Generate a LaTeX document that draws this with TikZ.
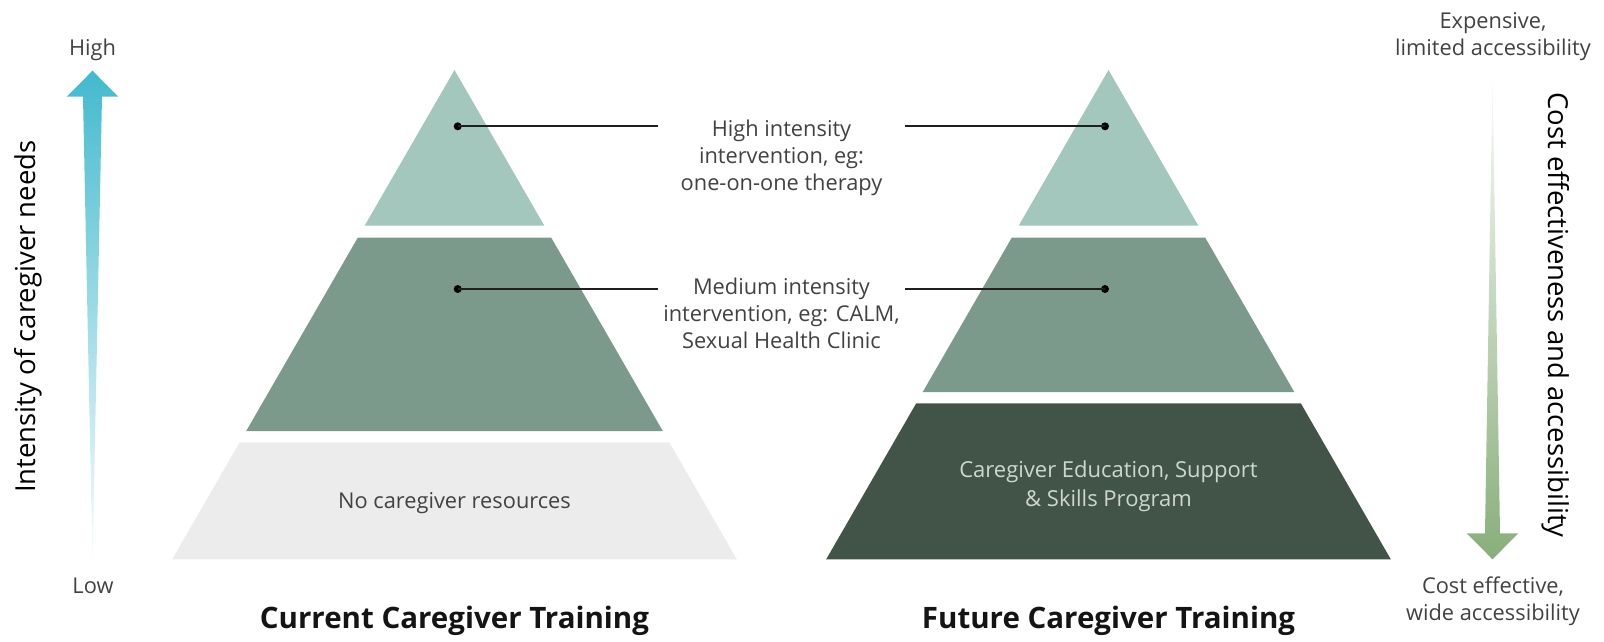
\documentclass[tikz,border=0pt]{standalone}
\usepackage{fontspec}
\setmainfont{Open Sans}
\usetikzlibrary{positioning}

\definecolor{tiertop}{RGB}{163,199,188}
\definecolor{tiermid}{RGB}{124,154,139}
\definecolor{tierbase}{RGB}{66,84,72}
\definecolor{tiernone}{RGB}{236,236,236}
\definecolor{needblue}{RGB}{67,186,206}
\definecolor{costgreen}{RGB}{137,174,123}
\definecolor{labelgray}{RGB}{66,66,66}
\definecolor{baselabel}{RGB}{205,215,208}

% one slice of a pyramid: apex x, top y, bottom y, colour
\newcommand{\pyrlayer}[4]{%
  \fill[#4] ({#1-0.577*(#2-70)},#2) -- ({#1+0.577*(#2-70)},#2)
    -- ({#1+0.577*(#3-70)},#3) -- ({#1-0.577*(#3-70)},#3) -- cycle;}

\tikzset{
  note/.style={font=\fontsize{21.8}{27.3}\selectfont, text=labelgray, align=center, inner sep=0pt},
  heading/.style={font=\fontsize{29.5}{34}\selectfont\bfseries, text=black!92, inner sep=0pt},
  axislabel/.style={font=\fontsize{27.5}{32}\selectfont, text=black, inner sep=0pt},
  leader/.style={line width=1.8pt, black!88},
  leaderdot/.style={circle, fill=black, inner sep=0pt, minimum size=8pt},
}

\begin{document}
\begin{tikzpicture}[x=1pt,y=-1pt]
    \useasboundingbox (0,0) rectangle (1604,641);

    % Current pyramid
    \pyrlayer{454.5}{70}{225.7}{tiertop}
    \pyrlayer{454.5}{237.7}{431}{tiermid}
    \pyrlayer{454.5}{442.3}{559.3}{tiernone}
    \node[note, anchor=base] (nores) at (454.5,508.3) {No caregiver resources};

    % Future pyramid
    \pyrlayer{1108.5}{70}{225.7}{tiertop}
    \pyrlayer{1108.5}{237.7}{392}{tiermid}
    \pyrlayer{1108.5}{403.3}{559.3}{tierbase}
    \node[note, text=baselabel, font=\fontsize{22}{28.7}\selectfont] (program) at (1108.5,486)
        {Caregiver Education, Support\\\& Skills Program};

    % Shared labels in the middle
    \node[note] (hightxt) at (781.5,158) {High intensity\\intervention, eg:\\one-on-one therapy};
    \node[note] (medtxt) at (781.5,313.3) {Medium intensity\\intervention, eg: CALM,\\Sexual Health Clinic};
    \coordinate (leftend) at (658.3,0);
    \coordinate (rightend) at (905,0);

    % Leaders
    \node[leaderdot] (highA) at (457.7,126.3) {};
    \node[leaderdot] (medA) at (457.7,289) {};
    \node[leaderdot] (highB) at (1105,126.3) {};
    \node[leaderdot] (medB) at (1105,289) {};
    \draw[leader] (highA.center) -- (highA -| leftend);
    \draw[leader] (medA.center) -- (medA -| leftend);
    \draw[leader] (highB -| rightend) -- (highB.center);
    \draw[leader] (medB -| rightend) -- (medB.center);

    % Titles
    \node[heading, anchor=base] (current) at (454.5,628.3) {Current Caregiver Training};
    \node[heading, anchor=base] (future) at (1108.5,628.8) {Future Caregiver Training};

    % Intensity arrow
    \shade[top color=needblue, bottom color=needblue!3]
        (92.5,70.7) -- (118.3,96.7) -- (102,96.7) -- (92.5,562) -- (83,96.7) -- (66.7,96.7) -- cycle;
    \node[note, anchor=base] (high) at (92.5,55.7) {High};
    \node[note, anchor=base] (low) at (93,593) {Low};
    \node[axislabel, rotate=90] (needs) at (28.3,316.6) {Intensity of caregiver needs};

    % Cost arrow
    \shade[top color=costgreen!4, bottom color=costgreen]
        (1492.5,75) -- (1500,533.3) -- (1518.3,533.3) -- (1492.5,559.3) -- (1466.7,533.3) -- (1485,533.3) -- cycle;
    \node[note] (expensive) at (1493,36.5) {Expensive,\\limited accessibility};
    \node[note] (cheap) at (1493,601) {Cost effective,\\wide accessibility};
    \node[axislabel, rotate=-90] (cost) at (1556,315) {Cost effectiveness and accessibility};
\end{tikzpicture}
\end{document}
